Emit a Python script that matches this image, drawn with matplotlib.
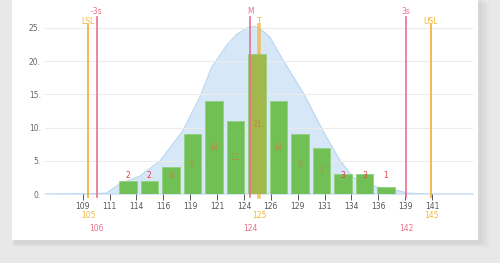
import numpy as np
import matplotlib
matplotlib.use("Agg")
import matplotlib.pyplot as plt
from matplotlib.patches import Rectangle

# histogram bins (axis units) and counts
bin_centers = [113.2, 115.2, 117.2, 119.2, 121.2, 123.2, 125.2,
               127.2, 129.2, 131.2, 133.2, 135.2, 137.2]
counts = [2, 2, 4, 9, 14, 11, 21, 14, 9, 7, 3, 3, 1]

# fitted curve
curve_x = [105.5, 109.7, 111.2, 112.4, 114.3, 116.2, 118.3, 119.9, 121.0,
           122.4, 123.3, 124.3, 124.9, 125.5, 126.4, 127.6, 129.5, 131.3,
           132.9, 134.1, 135.2, 136.4, 138.2, 139.2, 141.3, 145.3]
curve_y = [0.0, 0.05, 0.15, 1.5, 2.7, 5.0, 9.5, 14.6, 19.1,
           22.4, 24.0, 25.0, 25.2, 24.9, 23.6, 20.2, 15.2, 9.6,
           5.1, 2.6, 1.7, 1.05, 0.6, 0.15, 0.0, 0.0]

tick_pos = [109, 111.5, 114, 116.5, 119, 121.5, 124, 126.5,
            129, 131.5, 134, 136.5, 139, 141.5]
tick_labels = ["109", "111", "114", "116", "119", "121", "124",
               "126", "129", "131", "134", "136", "139", "141"]

# spec limits / target (orange) and sigma lines (pink)
spec_names = ["LSL", "T", "USL"]
spec_pos = [109.5, 125.4, 141.4]
spec_vals = ["105", "125", "145"]
sig_names = ["-3s", "M", "3s"]
sig_pos = [110.3, 124.6, 139.1]
sig_vals = ["106", "124", "142"]

orange = "#f5b53a"
pink = "#e8708c"

fig = plt.figure(figsize=(5, 2.63), dpi=100)
fig.patch.set_facecolor("#e8e8e8")

# card with a soft shadow
for i, a in enumerate([0.04, 0.05, 0.06, 0.07]):
    d = (4 - i) * 0.004
    fig.patches.append(Rectangle((0.024 + d * 0.3, 0.075 - d), 0.935 + d, 0.93,
                                 transform=fig.transFigure, facecolor="#9a9a9a",
                                 alpha=a, edgecolor="none", zorder=-2))
fig.patches.append(Rectangle((0.024, 0.088), 0.932, 0.92,
                             transform=fig.transFigure, facecolor="white",
                             edgecolor="none", zorder=-1))

ax = fig.add_axes([0.09, 0.262, 0.856, 0.67])
ax.set_zorder(2)
ax.set_facecolor("none")
ax.set_xlim(105.5, 145.3)
ax.set_ylim(0, 26.5)

for s in ax.spines.values():
    s.set_visible(False)

ax.set_yticks([0, 5, 10, 15, 20, 25])
ax.set_yticklabels(["0.", "5.", "10.", "15.", "20.", "25."])
ax.grid(axis="y", color="#ebebeb", linewidth=0.8, zorder=0)
ax.tick_params(axis="y", length=0, labelsize=5.5, labelcolor="#666666", pad=3)

ax.set_xticks(tick_pos)
ax.set_xticklabels(tick_labels)
ax.tick_params(axis="x", length=4, width=0.7, color="#555555", direction="out",
               labelsize=5.5, labelcolor="#555555", pad=1.5)

ax.fill_between(curve_x, curve_y, 0, color="#d6e8f8", zorder=1)
ax.plot(curve_x, curve_y, color="#bfd8f0", linewidth=0.8, zorder=1)
ax.axhline(0, color="#a9c6e0", linewidth=1.0, zorder=2)

colors = ["#70c055"] * len(counts)
colors[6] = "#a2b84c"
ax.bar(bin_centers, counts, width=1.63, color=colors, edgecolor="#8fcf78",
       linewidth=0.5, zorder=3)

for x, c in zip(bin_centers, counts):
    y = max(c / 2, 2.85)
    col = "#e63c43" if c <= 3 else "#c0893f"
    ax.text(x, y, str(c), ha="center", va="center", fontsize=5.5, color=col, zorder=5)

for name, x, v in zip(spec_names, spec_pos, spec_vals):
    lw = 2.6 if name == "T" else 1.3
    al = 0.75 if name == "T" else 1.0
    z = 2.5 if name == "T" else 4
    ax.plot([x, x], [-0.5, 25.4], color=orange, linewidth=lw, alpha=al,
            clip_on=False, zorder=z)
    ax.text(x, 26.0, name, ha="center", va="center", fontsize=5.5, color=orange,
            clip_on=False)
    ax.text(x, -3.2, v, ha="center", va="center", fontsize=5.5, color=orange,
            clip_on=False)

for name, x, v in zip(sig_names, sig_pos, sig_vals):
    ax.plot([x, x], [-0.5, 26.6], color=pink, linewidth=1.2,
            clip_on=False, zorder=4)
    ax.text(x, 27.4, name, ha="center", va="center", fontsize=5.5, color=pink,
            clip_on=False)
    ax.text(x, -5.1, v, ha="center", va="center", fontsize=5.5, color=pink,
            clip_on=False)

fig.savefig("out.png", dpi=100, facecolor=fig.get_facecolor())
